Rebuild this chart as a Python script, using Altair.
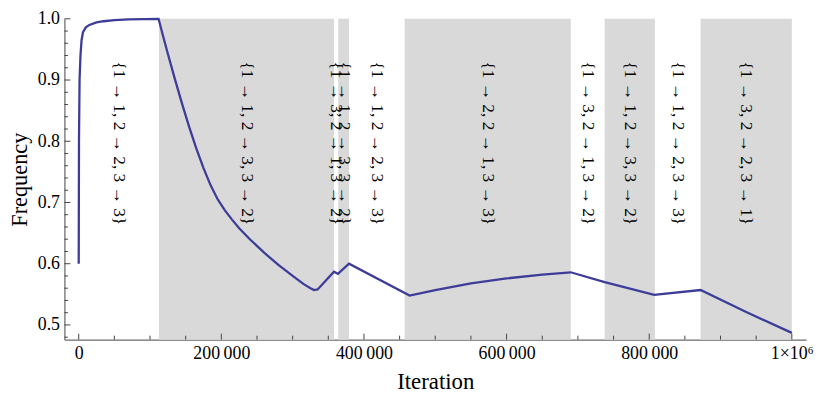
import altair as alt
import pandas as pd

# ---- data ----
iterations = [0, 400, 1200, 2500, 4000, 6000, 10000, 15000, 25000, 35000, 50000, 70000, 112000,
              118000, 125000, 135000, 145000, 155000, 165000, 175000, 185000, 195000, 205000,
              215000, 225000, 240000, 260000, 280000, 300000, 315000, 325000, 330000,
              335000, 358000, 363500, 379000, 464000,
              500000, 550000, 600000, 650000, 690000, 737500, 807000, 872000, 936000, 1000000]
frequency = [0.600, 0.800, 0.900, 0.940, 0.965, 0.978, 0.986, 0.990, 0.994, 0.996, 0.998, 0.999, 1.000,
             0.973, 0.943, 0.901, 0.861, 0.823, 0.788, 0.756, 0.728, 0.705, 0.687,
             0.672, 0.658, 0.640, 0.618, 0.598, 0.580, 0.567, 0.560, 0.557,
             0.558, 0.587, 0.5836, 0.600, 0.548,
             0.557, 0.568, 0.576, 0.582, 0.586, 0.570, 0.549, 0.557, 0.521, 0.487]

region_start = [0, 112500, 358000, 364000, 379000, 457000, 690000, 737500, 808000, 872000]
region_end = [112500, 358000, 364000, 379000, 457000, 690000, 737500, 808000, 872000, 1000000]
region_shaded = [False, True, False, True, False, True, False, True, False, True]
region_label = [
    "{1 → 1, 2 → 2, 3 → 3}",
    "{1 → 1, 2 → 3, 3 → 2}",
    "{1 → 3, 2 → 1, 3 → 2}",
    "{1 → 1, 2 → 3, 3 → 2}",
    "{1 → 1, 2 → 2, 3 → 3}",
    "{1 → 2, 2 → 1, 3 → 3}",
    "{1 → 3, 2 → 1, 3 → 2}",
    "{1 → 1, 2 → 3, 3 → 2}",
    "{1 → 1, 2 → 2, 3 → 3}",
    "{1 → 3, 2 → 2, 3 → 1}",
]

x_major = [0, 200000, 400000, 600000, 800000, 1000000]
x_minor = [50000, 100000, 150000, 250000, 300000, 350000, 450000, 500000, 550000,
           650000, 700000, 750000, 850000, 900000, 950000]
y_major = [0.5, 0.6, 0.7, 0.8, 0.9, 1.0]
y_minor = [0.48, 0.52, 0.54, 0.56, 0.58, 0.62, 0.64, 0.66, 0.68, 0.72, 0.74, 0.76, 0.78,
           0.82, 0.84, 0.86, 0.88, 0.92, 0.94, 0.96, 0.98]

# ---- tables ----
line_df = pd.DataFrame({"iteration": iterations, "frequency": frequency})
reg_df = pd.DataFrame({"start": region_start, "end": region_end,
                       "shaded": region_shaded, "label": region_label})
xmaj_df = pd.DataFrame({"v": x_major})
xmin_df = pd.DataFrame({"v": x_minor})
ymaj_df = pd.DataFrame({"v": y_major})
ymin_df = pd.DataFrame({"v": y_minor})

W, H = 749, 324
FONT = "Liberation Serif"
AXIS_COLOR = "#444444"
LINE_COLOR = "#3D3D99"
SHADE = "#D9D9D9"

xscale = alt.Scale(domain=[-20000, 1020000], nice=False, zero=False)
yscale = alt.Scale(domain=[0.476, 1.0], nice=False, zero=False)

x_axis = alt.Axis(
    values=x_major,
    labelExpr="datum.value == 1000000 ? '1×10⁶' : replace(format(datum.value, ','), ',', '\u2009')",
    ticks=False, tickSize=0, grid=False,
    domainColor=AXIS_COLOR, domainWidth=1,
    labelFont=FONT, labelFontSize=18, labelColor="black", labelPadding=5,
    labelFlush=False, labelOverlap=False,
    title="Iteration", titleFont=FONT, titleFontSize=23, titleFontWeight="normal",
    titleColor="black", titlePadding=8,
)
y_axis = alt.Axis(
    values=y_major, format=".1f",
    ticks=False, tickSize=0, grid=False,
    domainColor=AXIS_COLOR, domainWidth=1,
    labelFont=FONT, labelFontSize=18, labelColor="black", labelPadding=5,
    labelFlush=False, labelOverlap=False,
    title="Frequency", titleFont=FONT, titleFontSize=22.5, titleFontWeight="normal",
    titleColor="black", titlePadding=6,
)

rects = alt.Chart(reg_df).transform_filter("datum.shaded").mark_rect(color=SHADE).encode(
    x=alt.X("start:Q", scale=xscale, axis=x_axis),
    x2="end:Q",
    y=alt.value(0),
    y2=alt.value(H),
)

labels = alt.Chart(reg_df).transform_calculate(
    mid="(datum.start + datum.end) / 2"
).mark_text(angle=90, align="left", baseline="middle", font=FONT, fontSize=17.5, color="black").encode(
    x=alt.X("mid:Q", scale=xscale, axis=x_axis),
    y=alt.value(43),
    text="label:N",
)

line = alt.Chart(line_df).mark_line(color=LINE_COLOR, strokeWidth=2.3).encode(
    x=alt.X("iteration:Q", scale=xscale, axis=x_axis),
    y=alt.Y("frequency:Q", scale=yscale, axis=y_axis),
    order="iteration:Q",
)

xmaj = alt.Chart(xmaj_df).mark_rule(color=AXIS_COLOR).encode(
    x=alt.X("v:Q", scale=xscale, axis=x_axis), y=alt.value(H), y2=alt.value(H - 6))
xmin = alt.Chart(xmin_df).mark_rule(color=AXIS_COLOR).encode(
    x=alt.X("v:Q", scale=xscale, axis=x_axis), y=alt.value(H), y2=alt.value(H - 4))
ymaj = alt.Chart(ymaj_df).mark_rule(color=AXIS_COLOR).encode(
    y=alt.Y("v:Q", scale=yscale, axis=y_axis), x=alt.value(0), x2=alt.value(6))
ymin = alt.Chart(ymin_df).mark_rule(color=AXIS_COLOR).encode(
    y=alt.Y("v:Q", scale=yscale, axis=y_axis), x=alt.value(0), x2=alt.value(3.5))

chart = alt.layer(rects, labels, line, xmaj, xmin, ymaj, ymin).properties(
    width=W, height=H,
    autosize=alt.AutoSizeParams(type="none"),
    padding={"left": 57, "top": 9, "right": 10, "bottom": 53},
    background="white",
).configure_view(stroke=None)

chart.save("out.html", embed_options={"renderer": "svg", "actions": False})
